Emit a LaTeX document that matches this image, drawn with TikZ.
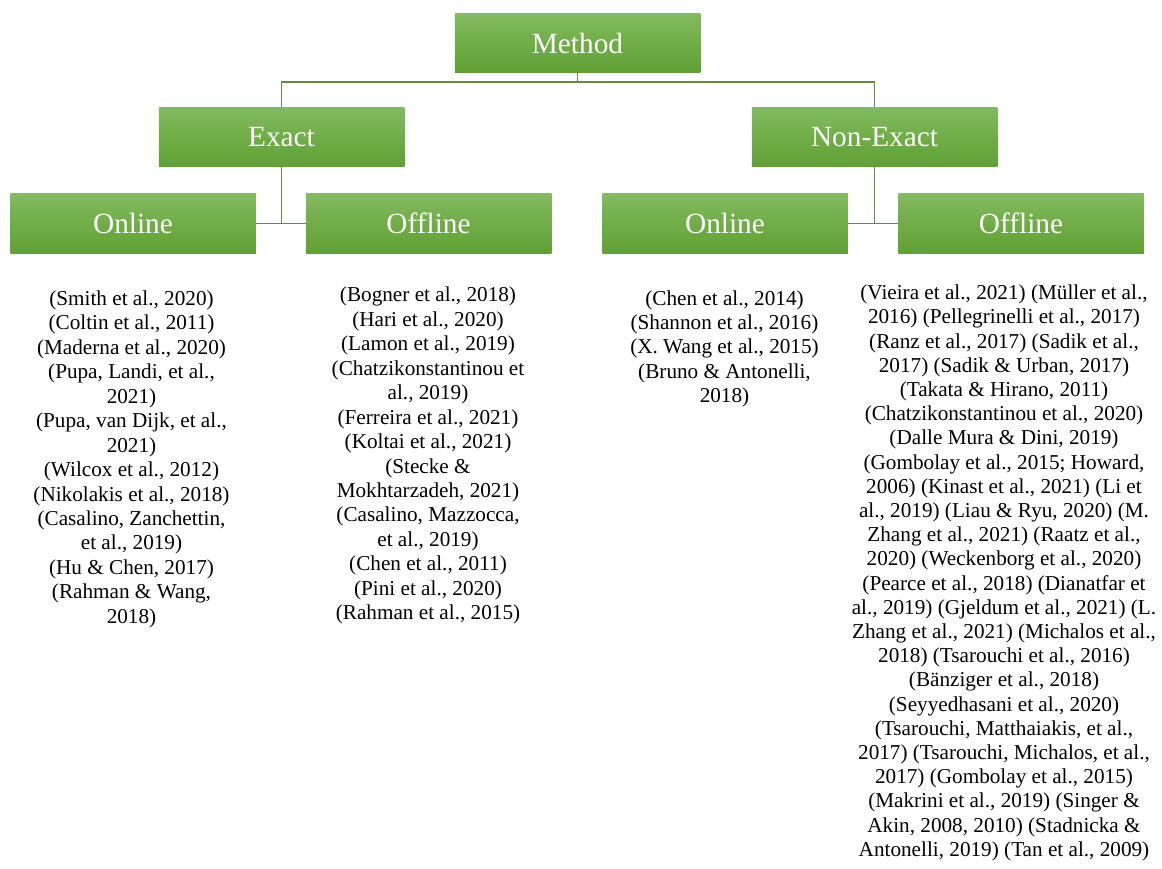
\documentclass[tikz,border=0pt]{standalone}
\usepackage{fontspec}
\setmainfont{Liberation Serif}
\usepackage{tikz}

\definecolor{boxtop}{RGB}{132,186,98}
\definecolor{boxmid}{RGB}{112,173,71}
\definecolor{boxbot}{RGB}{96,160,54}
\definecolor{linkgreen}{RGB}{96,142,62}

\begin{document}
\begin{tikzpicture}[x=1pt,y=-1pt,
  box/.style={rectangle,minimum width=245.5,minimum height=59.5,inner sep=0,
    top color=boxtop,bottom color=boxbot,middle color=boxmid,
    text=white,font=\fontsize{29.3}{34}\selectfont},
  refs/.style={anchor=north,align=center,inner sep=0,
    font=\fontsize{21.2}{24.45}\selectfont},
  link/.style={draw=linkgreen,line width=1.2}]

  \useasboundingbox (0,0) rectangle (1162,868);

  \node[box] (method) at (577.5,43) {Method};
  \node[box] (exact) at (281.5,137) {Exact};
  \node[box] (nonexact) at (874.5,137) {Non-Exact};
  \node[box] (exon) at (133,223.5) {Online};
  \node[box] (exoff) at (428.5,223.5) {Offline};
  \node[box] (neon) at (725,223.5) {Online};
  \node[box] (neoff) at (1021,223.5) {Offline};

  \draw[link] (method.south) -- ++(0,9) -| (exact.north);
  \draw[link] (method.south) -- ++(0,9) -| (nonexact.north);
  \draw[link] (exact.south) |- (exon.east);
  \draw[link] (exact.south) |- (exoff.west);
  \draw[link] (nonexact.south) |- (neon.east);
  \draw[link] (nonexact.south) |- (neoff.west);

  \node[refs] (exonrefs) at (131.5,290.5) {(Smith et al., 2020)\\
    (Coltin et al., 2011)\\(Maderna et al., 2020)\\(Pupa, Landi, et al.,\\
    2021)\\(Pupa, van Dijk, et al.,\\2021)\\(Wilcox et al., 2012)\\
    (Nikolakis et al., 2018)\\(Casalino, Zanchettin,\\et al., 2019)\\
    (Hu \& Chen, 2017)\\(Rahman \& Wang,\\2018)};

  \node[refs] (exoffrefs) at (428,287) {(Bogner et al., 2018)\\
    (Hari et al., 2020)\\(Lamon et al., 2019)\\(Chatzikonstantinou et\\
    al., 2019)\\(Ferreira et al., 2021)\\(Koltai et al., 2021)\\
    (Stecke \&\\Mokhtarzadeh, 2021)\\(Casalino, Mazzocca,\\et al., 2019)\\
    (Chen et al., 2011)\\(Pini et al., 2020)\\(Rahman et al., 2015)};

  \node[refs,font=\fontsize{21.2}{24.3}\selectfont] (neonrefs) at (724.5,290.3)
    {(Chen et al., 2014)\\(Shannon et al., 2016)\\(X. Wang et al., 2015)\\
    (Bruno \& Antonelli,\\2018)};

  \node[refs,font=\fontsize{21.2}{24.2}\selectfont] (neoffrefs) at (1004,284.8)
    {(Vieira et al., 2021) (Müller et al.,\\
    2016) (Pellegrinelli et al., 2017)\\
    (Ranz et al., 2017) (Sadik et al.,\\
    2017) (Sadik \& Urban, 2017)\\
    (Takata \& Hirano, 2011)\\
    (Chatzikonstantinou et al., 2020)\\
    (Dalle Mura \& Dini, 2019)\\
    (Gombolay et al., 2015; Howard,\\
    2006) (Kinast et al., 2021) (Li et\\
    al., 2019) (Liau \& Ryu, 2020) (M.\\
    Zhang et al., 2021) (Raatz et al.,\\
    2020) (Weckenborg et al., 2020)\\
    (Pearce et al., 2018) (Dianatfar et\\
    al., 2019) (Gjeldum et al., 2021) (L.\\
    Zhang et al., 2021) (Michalos et al.,\\
    2018) (Tsarouchi et al., 2016)\\
    (Bänziger et al., 2018)\\
    (Seyyedhasani et al., 2020)\\
    (Tsarouchi, Matthaiakis, et al.,\\
    2017) (Tsarouchi, Michalos, et al.,\\
    2017) (Gombolay et al., 2015)\\
    (Makrini et al., 2019) (Singer \&\\
    Akin, 2008, 2010) (Stadnicka \&\\
    Antonelli, 2019) (Tan et al., 2009)};

\end{tikzpicture}
\end{document}
